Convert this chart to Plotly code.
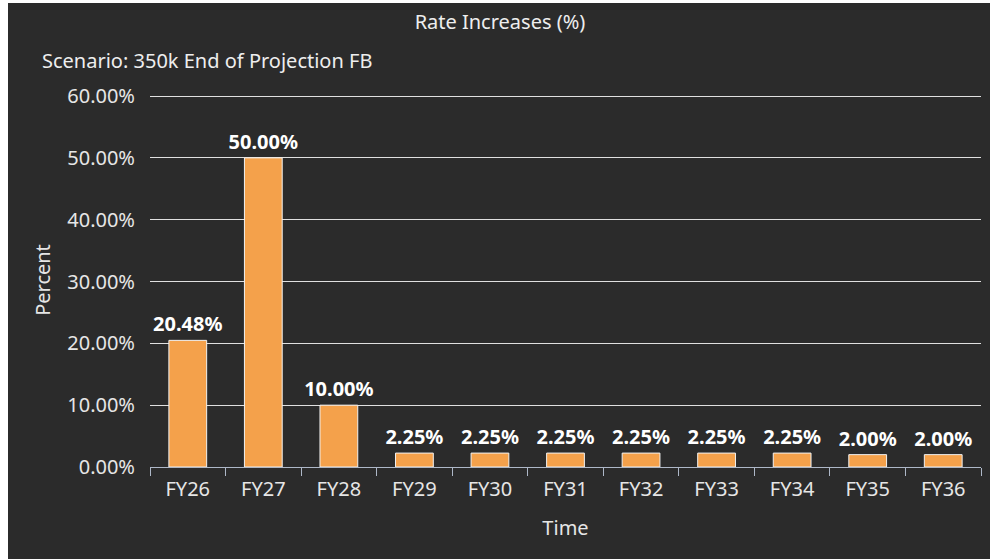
import plotly.graph_objects as go

categories = ["FY26", "FY27", "FY28", "FY29", "FY30", "FY31", "FY32", "FY33", "FY34", "FY35", "FY36"]
rate_increase = [20.48, 50.00, 10.00, 2.25, 2.25, 2.25, 2.25, 2.25, 2.25, 2.00, 2.00]
y_ticks = [0, 10, 20, 30, 40, 50, 60]
y_tick_labels = [f"{v:.2f}%" for v in y_ticks]

W, H = 990, 559
ML, MR, MT, MB = 150, 9, 93, 92
PW = W - ML - MR
PH = H - MT - MB
Y_TOP = 60.485

BG = "#2b2b2b"
FONT = "Noto Sans, Open Sans, sans-serif"
FS = 20

def px_x(px):
    return (px - ML) / PW

def px_y(py):
    return (H - MB - py) / PH

fig = go.Figure()
fig.add_trace(go.Bar(
    x=categories,
    y=rate_increase,
    marker=dict(color="#f4a14b", line=dict(color="#f2f2f2", width=1)),
    texttemplate="%{y:.2f}%",
    textposition="outside",
    constraintext="none",
    textfont=dict(family=FONT, size=FS, color="#ffffff", weight="bold"),
    cliponaxis=False,
    hovertemplate="%{x}: %{y:.2f}%<extra></extra>",
))

fig.update_layout(
    width=W, height=H,
    margin=dict(l=ML, r=MR, t=MT, b=MB, pad=0),
    paper_bgcolor=BG,
    plot_bgcolor=BG,
    bargap=0.5,
    showlegend=False,
    font=dict(family=FONT, size=FS, color="#e6e6e6"),
    title=dict(
        text="Rate Increases (%)",
        xref="container", x=500 / W, xanchor="center",
        yref="container", y=1 - 22 / H, yanchor="middle",
        font=dict(family=FONT, size=FS, color="#eeeeee"),
    ),
    xaxis=dict(
        type="category",
        showline=True, linecolor="#aeb8c8", linewidth=1,
        ticks="outside", tickson="boundaries", ticklen=8, tickcolor="#aeb8c8",
        showgrid=False,
        ticklabelstandoff=4,
        tickfont=dict(family=FONT, size=FS, color="#e6e6e6"),
        title=dict(text="Time", standoff=19, font=dict(family=FONT, size=FS, color="#e6e6e6")),
    ),
    yaxis=dict(
        range=[0, Y_TOP],
        tickvals=y_ticks,
        ticktext=y_tick_labels,
        showgrid=True, gridcolor="#e0e0e0", gridwidth=1,
        zeroline=False, showline=False,
        ticks="", ticklabelstandoff=14,
        tickfont=dict(family=FONT, size=FS, color="#e6e6e6"),
        title=dict(text="Percent", standoff=11, font=dict(family=FONT, size=FS, color="#e6e6e6")),
    ),
    annotations=[dict(
        text="Scenario: 350k End of Projection FB",
        xref="paper", yref="paper",
        x=px_x(40), xanchor="left",
        y=px_y(60), yanchor="middle",
        showarrow=False,
        font=dict(family=FONT, size=FS, color="#eeeeee"),
    )],
    shapes=[
        dict(type="rect", xref="paper", yref="paper", layer="below",
             x0=px_x(0), x1=px_x(8), y0=px_y(H), y1=px_y(0),
             fillcolor="#ffffff", line=dict(width=0)),
        dict(type="rect", xref="paper", yref="paper", layer="below",
             x0=px_x(0), x1=px_x(W), y0=px_y(3), y1=px_y(0),
             fillcolor="#ffffff", line=dict(width=0)),
    ],
)

fig.write_html("out.html")
